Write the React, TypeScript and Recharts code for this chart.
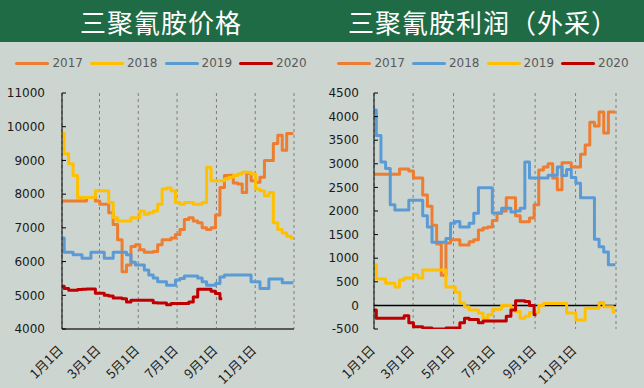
import React from 'react';
import { LineChart, Line, XAxis, YAxis, CartesianGrid, ReferenceLine } from 'recharts';

// weekly sample days (day of year)
const weekDays = [
  0, 7, 14, 21, 28, 35, 42, 49, 56, 63, 70, 77, 84, 91, 98, 105, 112, 119, 126, 133, 140, 147, 154, 161, 168, 175,
  182, 189, 196, 203, 210, 217, 224, 231, 238, 245, 252, 259, 266, 273, 280, 287, 294, 301, 308, 315, 322, 329,
  336, 343, 350, 357, 364,
];
const monthTicks = [0, 59, 120, 181, 243, 304, 365];
const monthLabels = ['1月1日', '3月1日', '5月1日', '7月1日', '9月1日', '11月1日', ''];

// 三聚氰胺价格
const price2017 = [
  7800, 7800, 7800, 7800, 7800, 7800, 7900, 7900, 7800, 7700, 7700, 7450, 7100, 6650, 5700, 5900, 6450, 6500,
  6350, 6280, 6280, 6300, 6500, 6650, 6650, 6700, 6800, 6950, 7250, 7300, 7200, 7150, 7000, 6950, 7000, 7380,
  8200, 8550, 8560, 8330, 8300, 8050, 8620, 8400, 8350, 8500, 9000, 9000, 9500, 9750, 9300, 9800, 9800,
];
const price2018 = [
  9800, 9200, 8900, 8550, 7900, 7900, 7900, 7900, 8100, 8100, 8100, 7750, 7300, 7200, 7200, 7200, 7300, 7300,
  7500, 7400, 7450, 7500, 7700, 8150, 8180, 8100, 7750, 7700, 7750, 7750, 7700, 7700, 7750, 8800, 8400, 8400,
  8400, 8450, 8500, 8550, 8600, 8650, 8650, 8600, 8150, 8100, 7950, 8050, 7150, 6950, 6850, 6750, 6700,
];
const price2019 = [
  6700, 6280, 6280, 6200, 6200, 6100, 6100, 6280, 6280, 6280, 6100, 6100, 6280, 6280, 6280, 6200, 5980, 5900,
  5900, 5750, 5600, 5510, 5400, 5400, 5300, 5300, 5450, 5500, 5570, 5570, 5570, 5510, 5400, 5300, 5300, 5350,
  5540, 5600, 5600, 5600, 5600, 5600, 5600, 5400, 5400, 5200, 5200, 5480, 5480, 5480, 5370, 5370, 5370,
];
const price2020 = [
  5270, 5200, 5150, 5150, 5170, 5180, 5190, 5190, 5060, 5060, 5000, 4980, 4920, 4920, 4900, 4800, 4850, 4850,
  4850, 4850, 4850, 4780, 4770, 4770, 4720, 4760, 4760, 4760, 4760, 4800, 4950, 5180, 5180, 5180, 5120, 5050,
  4900,
];
const priceTicks = [4000, 5000, 6000, 7000, 8000, 9000, 10000, 11000];

// 三聚氰胺利润（外采）
const profit2017 = [
  2780, 2780, 2780, 2780, 2780, 2780, 2890, 2890, 2850, 2700, 2700, 2340, 2100, 1700, 1300, 640, 1320, 1390,
  1390, 1280, 1280, 1350, 1390, 1600, 1640, 1660, 1800, 1950, 2000, 2280, 2280, 1900, 1770, 1770, 1850, 2130,
  2870, 2930, 3000, 2700, 2450, 3020, 3020, 2930, 2930, 3200, 3400, 3880, 3800, 4100, 3650, 4100, 4100,
];
const profit2018 = [
  4140, 3600, 3040, 2900, 2130, 2020, 2020, 2020, 2230, 2230, 2230, 1900, 1660, 1340, 1340, 1340, 1420, 1740,
  1780, 1660, 1660, 1740, 1950, 2490, 2490, 2490, 1960, 1960, 2060, 2060, 1980, 2000, 2060, 3040, 2700, 2700,
  2700, 2700, 2760, 2760, 2930, 2750, 2880, 2710, 2590, 2280, 2280, 2280, 1400, 1240, 1130, 860, 860,
];
const profit2019 = [
  860, 560, 560, 470, 470, 390, 540, 580, 580, 650, 580, 750, 750, 750, 750, 750, 390, 390, 280, 50, -30, -100,
  -100, -160, -270, -200, -80, -80, 5, 5, -50, -130, -270, -230, -150, -150, 0, 40, 40, 40, 40, 40, -160, -160,
  -310, -310, -60, -60, -60, 60, -30, -30, -140,
];
const profit2020 = [
  -100, -270, -270, -270, -270, -270, -270, -220, -370, -450, -450, -480, -480, -500, -500, -500, -480, -480,
  -480, -370, -270, -300, -300, -370, -330, -330, -330, -330, -330, -230, -100, 100, 100, 80, 0, -200,
];
const profitTicks = [-500, 0, 500, 1000, 1500, 2000, 2500, 3000, 3500, 4000, 4500];

const ORANGE = '#ED7D31';
const YELLOW = '#FFC000';
const BLUE = '#5B9BD5';
const RED = '#C00000';

const priceSeries = [
  { key: 'y2017', name: '2017', color: ORANGE, values: price2017 },
  { key: 'y2018', name: '2018', color: YELLOW, values: price2018 },
  { key: 'y2019', name: '2019', color: BLUE, values: price2019 },
  { key: 'y2020', name: '2020', color: RED, values: price2020 },
];
const profitSeries = [
  { key: 'y2017', name: '2017', color: ORANGE, values: profit2017 },
  { key: 'y2018', name: '2018', color: BLUE, values: profit2018 },
  { key: 'y2019', name: '2019', color: YELLOW, values: profit2019 },
  { key: 'y2020', name: '2020', color: RED, values: profit2020 },
];

const buildRows = (series: any[]) =>
  weekDays.map((day, i) => {
    const row: any = { day };
    series.forEach(s => { row[s.key] = s.values[i]; });
    return row;
  });

const MonthTick = ({ x, y, payload }: any) => {
  const label = monthLabels[monthTicks.indexOf(payload.value)];
  if (!label) return null;
  const ax = x + 2;
  const ay = y + 22;
  return (
    <text x={ax} y={ay} transform={`rotate(-45 ${ax} ${ay})`} textAnchor="end"
      fontSize={13} fill="#1a1a1a" fontFamily="'Noto Sans CJK SC', sans-serif">
      {label}
    </text>
  );
};

const Panel = ({ title, series, domain, ticks, axisWidth, labelGap, zeroLine }: any) => {
  const rows = buildRows(series);
  return (
    <div style={{ width: 322, height: 388, position: 'relative' }}>
      <div style={{
        height: 42, background: '#1F6B46', color: '#fff', fontSize: 26, letterSpacing: 1,
        fontFamily: "'Noto Sans CJK SC', sans-serif", display: 'flex', alignItems: 'center', justifyContent: 'center',
      }}>{title}</div>
      <div style={{
        position: 'absolute', top: 51, left: 0, width: 322, height: 24, display: 'flex',
        justifyContent: 'center', alignItems: 'center', gap: 7,
      }}>
        {series.map((s: any) => (
          <div key={s.key} style={{ display: 'flex', alignItems: 'center' }}>
            <div style={{ width: 34, height: 3, background: s.color, borderRadius: 1.5, marginRight: 3 }} />
            <span style={{ fontSize: 12, color: '#595959', fontFamily: "'DejaVu Sans', sans-serif" }}>{s.name}</span>
          </div>
        ))}
      </div>
      <div style={{ position: 'absolute', top: 42, left: 0 }}>
        <LineChart width={322} height={346} data={rows} margin={{ top: 51, right: 28, left: 0, bottom: 0 }}>
          <CartesianGrid horizontal={false} stroke="#7f7f7f" strokeDasharray="3 3" />
          <XAxis dataKey="day" type="number" domain={[0, 365]} ticks={monthTicks} interval={0}
            height={59} tickSize={0} tickMargin={0} tick={<MonthTick />}
            axisLine={zeroLine ? false : { stroke: '#595959', strokeWidth: 2 }} tickLine={false} />
          <YAxis type="number" domain={domain} ticks={ticks} interval={0} width={axisWidth}
            allowDataOverflow tickSize={-4} tickMargin={labelGap + 4}
            axisLine={{ stroke: '#000' }} tickLine={{ stroke: '#000' }}
            tick={{ fill: '#1a1a1a', fontSize: 12, fontFamily: "'DejaVu Sans', sans-serif" }} />
          {zeroLine && <ReferenceLine y={0} stroke="#000" strokeWidth={1.5} />}
          {series.map((s: any) => (
            <Line key={s.key} dataKey={s.key} name={s.name} type="step" stroke={s.color}
              strokeWidth={3} strokeLinejoin="round" dot={false} activeDot={false} isAnimationActive={false} />
          ))}
        </LineChart>
      </div>
    </div>
  );
};

export default function App() {
  return (
    <div style={{
      position: 'absolute', left: 0, top: 0, width: 644, height: 388, background: '#CDD5D0',
      display: 'flex', overflow: 'hidden',
    }}>
      <Panel title="三聚氰胺价格" series={priceSeries} domain={[4000, 11000]} ticks={priceTicks}
        axisWidth={62} labelGap={17} zeroLine={false} />
      <Panel title="三聚氰胺利润（外采）" series={profitSeries} domain={[-500, 4500]} ticks={profitTicks}
        axisWidth={52} labelGap={15} zeroLine />
    </div>
  );
}
